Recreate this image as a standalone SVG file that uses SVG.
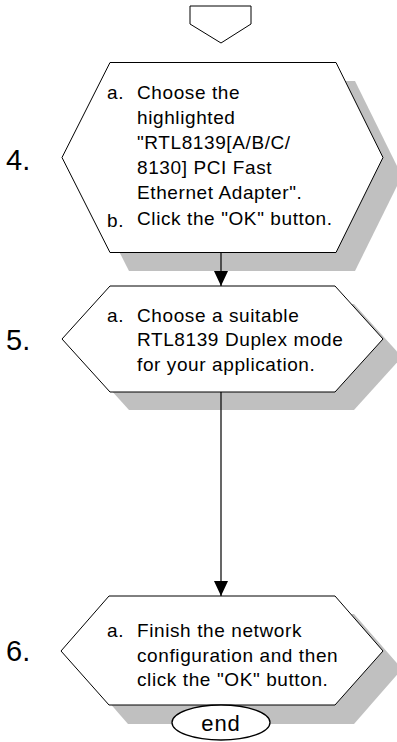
<svg xmlns="http://www.w3.org/2000/svg" width="397" height="742" viewBox="0 0 397 742">
<style>
.hex{fill:#fff;stroke:#000;stroke-width:1}
.sh{fill:#c0c0c0;stroke:none}
.t{font-family:"Liberation Sans",Arial,sans-serif;font-size:19px;letter-spacing:0.6px;fill:#000}
.num{font-family:"Liberation Sans",Arial,sans-serif;font-size:29px;fill:#000}
.con{stroke:#000;stroke-width:1.2;fill:none}
</style>
<defs>
<marker id="ah" viewBox="0 0 15 14" refX="15" refY="7" markerWidth="15" markerHeight="14" markerUnits="userSpaceOnUse" orient="auto">
<path d="M0,0 L15,7 L0,14 Z" fill="#000"/>
</marker>
</defs>
<g id="start">
<polygon points="190,6 251,6 251,24 221,43 190,24" fill="#fff" stroke="#000" stroke-width="1"/>
</g>
<g id="step4">
<polygon class="sh" points="129,81 355,81 402,176 355,271 129,271 81,176"/>
<polygon class="hex" points="110,62.5 336,62.5 383,157.5 336,252.5 110,252.5 62,157.5"/>
<text class="num" x="6" y="170">4.</text>
<text class="t" x="107" y="99">a.</text>
<text class="t" x="137" y="99">Choose the</text>
<text class="t" x="137" y="124">highlighted</text>
<text class="t" x="137" y="149">"RTL8139[A/B/C/</text>
<text class="t" x="137" y="174">8130] PCI Fast</text>
<text class="t" x="137" y="199">Ethernet Adapter".</text>
<text class="t" x="107" y="227">b.</text>
<text class="t" x="137" y="225">Click the "OK" button.</text>
</g>
<g id="step5">
<polygon class="sh" points="129,304 354,304 402,357 354,410 129,410 81,357"/>
<polygon class="hex" points="110,286 335,286 383,339 335,392 110,392 62,339"/>
<text class="num" x="6" y="350">5.</text>
<text class="t" x="107" y="321.5">a.</text>
<text class="t" x="137" y="321.5">Choose a suitable</text>
<text class="t" x="137" y="346">RTL8139 Duplex mode</text>
<text class="t" x="137" y="370.5">for your application.</text>
</g>
<g id="step6">
<polygon class="sh" points="128,614 354,614 402,669 354,724 128,724 80,669"/>
<polygon class="hex" points="109,596 335,596 383,651 335,705 109,705 61,651"/>
<text class="num" x="6" y="661">6.</text>
<text class="t" x="107" y="637">a.</text>
<text class="t" x="137" y="637">Finish the network</text>
<text class="t" x="137" y="661.5">configuration and then</text>
<text class="t" x="137" y="686">click the "OK" button.</text>
</g>
<g id="end">
<ellipse cx="221" cy="722.5" rx="49" ry="17.5" fill="#fff" stroke="#000" stroke-width="1.3"/>
<text x="221" y="731" text-anchor="middle" font-family="Liberation Sans, Arial, sans-serif" font-size="22" letter-spacing="1">end</text>
</g>
<g id="connectors">
<line class="con" x1="221" y1="252.5" x2="221" y2="286" marker-end="url(#ah)"/>
<line class="con" x1="221" y1="392" x2="221" y2="596" marker-end="url(#ah)"/>
</g>
</svg>
